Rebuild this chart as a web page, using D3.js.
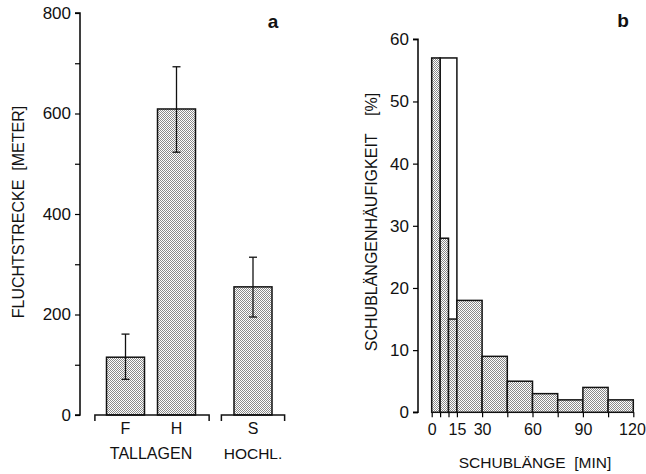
<!DOCTYPE html>
<html>
<head>
<meta charset="utf-8">
<script src="https://cdn.jsdelivr.net/npm/d3@7"></script>
<style>
  body { margin: 0; background: #fff; }
  text { font-family: "Liberation Sans", Arial, sans-serif; fill: #111; }
</style>
</head>
<body>
<svg id="chart" width="646" height="474"></svg>
<script>
// panel a data
var catsA = ['F', 'H', 'S'],
    posA = [0, 1, 2.5],
    meanA = [115, 609, 255],
    errLoA = [71, 523, 195],
    errHiA = [161, 693, 314],
    groupsA = ['TALLAGEN', 'HOCHL.'],
    groupFrom = [-0.6, 1.88],
    groupTo = [1.64, 3.12],
    groupMid = [0.5, 2.5],
    ticksA = [0, 200, 400, 600, 800];

// panel b data
var binStart = [0, 5, 10, 15, 30, 45, 60, 75, 90, 105],
    binEnd = [5, 10, 15, 30, 45, 60, 75, 90, 105, 120],
    binPct = [57, 28, 15, 18, 9, 5, 3, 2, 4, 2],
    openStart = [5],
    openEnd = [15],
    openPct = [57],
    ticksBx = [0, 15, 30, 60, 90, 120],
    tickMarksBx = [0, 5, 10, 15, 30, 45, 60, 75, 90, 105, 120],
    ticksBy = [0, 10, 20, 30, 40, 50, 60];

var svg = d3.select('#chart');

// stipple fill (fine checker)
var defs = svg.append('defs');
var pat = defs.append('pattern')
    .attr('id', 'dots')
    .attr('width', 2).attr('height', 2)
    .attr('patternUnits', 'userSpaceOnUse');
pat.append('rect').attr('width', 2).attr('height', 2).attr('fill', '#fff');
pat.append('rect').attr('width', 1).attr('height', 1).attr('fill', '#8a8a8a');
pat.append('rect').attr('x', 1).attr('y', 1).attr('width', 1).attr('height', 1).attr('fill', '#8a8a8a');

function styleAxis(g, size){
    g.selectAll('.tick line').attr('stroke-width', 1.2);
    g.selectAll('.tick text').attr('font-size', size)
        .attr('font-family', '"Liberation Sans", Arial, sans-serif').attr('fill', '#111');
}

// ---------- panel a ----------
var ya = d3.scaleLinear().domain([0, 800]).range([415, 13]);
var xa = d3.scaleLinear().domain([0, 1]).range([125.5, 176.5]);
var barW = 38;

var gA = svg.append('g');

gA.append('g')
    .attr('transform', 'translate(80,0)')
    .call(d3.axisLeft(ya).tickValues(d3.range(0, 801, 100)).tickSize(5).tickPadding(4)
        .tickFormat(function(d){ return ticksA.indexOf(d) >= 0 ? d : ''; }))
    .call(function(g){
        g.select('.domain').attr('stroke-width', 1.5).attr('d', 'M-5,' + ya(800) + 'H0V' + ya(0) + 'H-5');
        styleAxis(g, 17);
    });

gA.selectAll('rect.bar')
    .data(catsA)
    .enter().append('rect')
    .attr('class', 'bar')
    .attr('x', function(d, i){ return xa(posA[i]) - barW/2; })
    .attr('y', function(d, i){ return ya(meanA[i]); })
    .attr('width', barW)
    .attr('height', function(d, i){ return ya(0) - ya(meanA[i]); })
    .attr('fill', 'url(#dots)')
    .attr('stroke', '#111')
    .attr('stroke-width', 1.5);

// error bars
var eb = gA.selectAll('g.err').data(catsA).enter().append('g').attr('class', 'err');
eb.append('line')
    .attr('x1', function(d, i){ return xa(posA[i]); })
    .attr('x2', function(d, i){ return xa(posA[i]); })
    .attr('y1', function(d, i){ return ya(errLoA[i]); })
    .attr('y2', function(d, i){ return ya(errHiA[i]); })
    .attr('stroke', '#111').attr('stroke-width', 1.3);
[errLoA, errHiA].forEach(function(arr){
    eb.append('line')
        .attr('x1', function(d, i){ return xa(posA[i]) - 4; })
        .attr('x2', function(d, i){ return xa(posA[i]) + 4; })
        .attr('y1', function(d, i){ return ya(arr[i]); })
        .attr('y2', function(d, i){ return ya(arr[i]); })
        .attr('stroke', '#111').attr('stroke-width', 1.3);
});

// category labels
gA.selectAll('text.cat')
    .data(catsA)
    .enter().append('text')
    .attr('class', 'cat')
    .attr('x', function(d, i){ return xa(posA[i]); })
    .attr('y', 434)
    .attr('text-anchor', 'middle')
    .attr('font-size', 16)
    .text(function(d){ return d; });

// group brackets
gA.selectAll('path.brk')
    .data(groupsA)
    .enter().append('path')
    .attr('class', 'brk')
    .attr('d', function(d, i){
        var a = xa(groupFrom[i]), b = xa(groupTo[i]), y0 = ya(0);
        return 'M' + a + ',' + (y0 + 6) + 'V' + y0 + 'H' + b + 'V' + (y0 + 6);
    })
    .attr('fill', 'none').attr('stroke', '#111').attr('stroke-width', 1.5);

gA.selectAll('text.grp')
    .data(groupsA)
    .enter().append('text')
    .attr('class', 'grp')
    .attr('x', function(d, i){ return xa(groupMid[i]); })
    .attr('y', 459)
    .attr('text-anchor', 'middle')
    .attr('font-size', function(d, i){ return i === 0 ? 16 : 15.5; })
    .text(function(d){ return d; });

gA.append('text')
    .attr('transform', 'translate(24,212) rotate(-90)')
    .attr('text-anchor', 'middle')
    .attr('font-size', 16)
    .style('white-space', 'pre')
    .text('FLUCHTSTRECKE  [METER]');

gA.append('text')
    .attr('x', 273).attr('y', 28)
    .attr('text-anchor', 'middle')
    .attr('font-size', 19).attr('font-weight', 'bold')
    .text('a');

// ---------- panel b ----------
var xb = d3.scaleLinear().domain([0, 120]).range([431.7, 633.3]);
var yb = d3.scaleLinear().domain([0, 60]).range([412.3, 39.3]);

var gB = svg.append('g');

gB.append('g')
    .attr('transform', 'translate(418,0)')
    .call(d3.axisLeft(yb).tickValues(ticksBy).tickSize(5).tickPadding(4))
    .call(function(g){
        g.select('.domain').attr('stroke-width', 1.5).attr('d', 'M-5,' + yb(60) + 'H0V' + yb(0) + 'H-5');
        styleAxis(g, 17);
    });

gB.append('g')
    .attr('transform', 'translate(0,' + yb(0) + ')')
    .call(d3.axisBottom(xb).tickValues(tickMarksBx).tickSize(5).tickPadding(6)
        .tickFormat(function(d){ return ticksBx.indexOf(d) >= 0 ? d : ''; }))
    .call(function(g){
        g.select('.domain').attr('stroke-width', 1.5).attr('d', 'M' + xb(0) + ',0H' + xb(120));
        styleAxis(g, 16);
        // keep the last label inside the picture
        g.selectAll('.tick text').filter(function(d){ return d === 120; })
            .attr('text-anchor', 'end').attr('dx', 12);
    });

// open bar behind
gB.selectAll('rect.open')
    .data(openPct)
    .enter().append('rect')
    .attr('class', 'open')
    .attr('x', function(d, i){ return xb(openStart[i]); })
    .attr('y', function(d){ return yb(d); })
    .attr('width', function(d, i){ return xb(openEnd[i]) - xb(openStart[i]); })
    .attr('height', function(d){ return yb(0) - yb(d); })
    .attr('fill', '#fff').attr('stroke', '#111').attr('stroke-width', 1.5);

gB.selectAll('rect.bin')
    .data(binPct)
    .enter().append('rect')
    .attr('class', 'bin')
    .attr('x', function(d, i){ return xb(binStart[i]); })
    .attr('y', function(d){ return yb(d); })
    .attr('width', function(d, i){ return xb(binEnd[i]) - xb(binStart[i]); })
    .attr('height', function(d){ return yb(0) - yb(d); })
    .attr('fill', 'url(#dots)').attr('stroke', '#111').attr('stroke-width', 1.5);

gB.append('text')
    .attr('transform', 'translate(377,222) rotate(-90)')
    .attr('text-anchor', 'middle')
    .attr('font-size', 16)
    .style('white-space', 'pre')
    .text('SCHUBLÄNGENHÄUFIGKEIT    [%]');

gB.append('text')
    .attr('x', 535).attr('y', 468)
    .attr('text-anchor', 'middle')
    .attr('font-size', 15.5)
    .style('white-space', 'pre')
    .text('SCHUBLÄNGE  [MIN]');

gB.append('text')
    .attr('x', 623).attr('y', 27)
    .attr('text-anchor', 'middle')
    .attr('font-size', 19).attr('font-weight', 'bold')
    .text('b');
</script>
</body>
</html>
